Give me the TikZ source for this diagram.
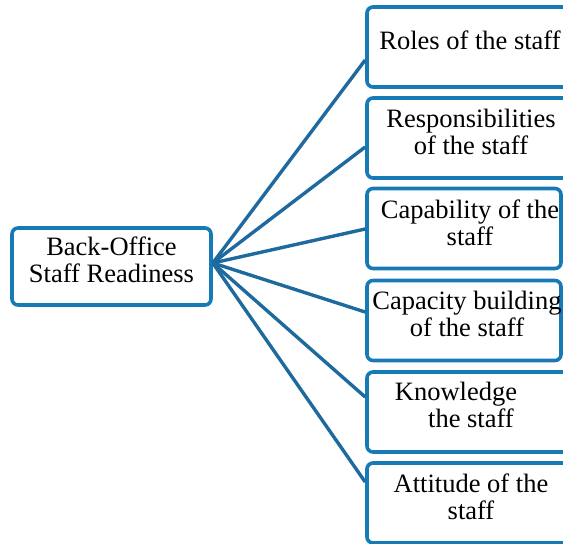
\documentclass[tikz,border=0pt]{standalone}
\usepackage{fontspec}
\setmainfont{Liberation Serif}
\definecolor{boxblue}{RGB}{22,122,182}
\definecolor{lineblue}{RGB}{30,106,158}
\tikzset{
  rbox/.style={draw=boxblue, line width=3.6pt, rounded corners=6pt, minimum width=203pt, minimum height=80pt, inner sep=0pt},
  rtext/.style={align=center, font=\fontsize{26.5}{26.5}\selectfont, inner sep=0pt},
  link/.style={draw=lineblue, line width=3.4pt}
}
\begin{document}
\begin{tikzpicture}[x=1pt,y=-1pt]
    \useasboundingbox (0,0) rectangle (563,544);
    \clip (0,0) rectangle (563,544);

    % Root box
    \node[rbox, minimum width=199pt, minimum height=77pt] (root) at (111.5,266.5) {};
    \node[rtext] (roottxt) at (111.5,260) {Back-Office\\Staff Readiness};

    % Right boxes
    \node[rbox] (r1) at (468.5,47) {};
    \node[rbox] (r2) at (468.5,138) {};
    \node[rbox, minimum width=194pt] (r3) at (464,228.5) {};
    \node[rbox, minimum width=194pt] (r4) at (464,320.5) {};
    \node[rbox] (r5) at (468.5,412) {};
    \node[rbox] (r6) at (468.5,503) {};

    % Labels
    \node[rtext] (t1) at (470,40) {Roles of the staff};
    \node[rtext] (t2) at (471,132) {Responsibilities\\of the staff};
    \node[rtext] (t3) at (470,223) {Capability of the\\staff};
    \node[rtext] (t4) at (467,314) {Capacity building\\of the staff};
    \node[rtext] (t5) at (471,405) {Knowledge\hspace*{30pt}\\the staff};
    \node[rtext] (t6) at (471,497) {Attitude of the\\staff};

    % Connectors
    \coordinate (hub) at ([yshift=3.5pt]root.east);
    \draw[link] (hub) -- ([yshift=-13pt]r1.west);
    \draw[link] (hub) -- ([yshift=-9pt]r2.west);
    \draw[link] (hub) -- ([yshift=-0.5pt]r3.west);
    \draw[link] (hub) -- ([yshift=8.5pt]r4.west);
    \draw[link] (hub) -- ([yshift=15pt]r5.west);
    \draw[link] (hub) -- ([yshift=21pt]r6.west);
\end{tikzpicture}
\end{document}
